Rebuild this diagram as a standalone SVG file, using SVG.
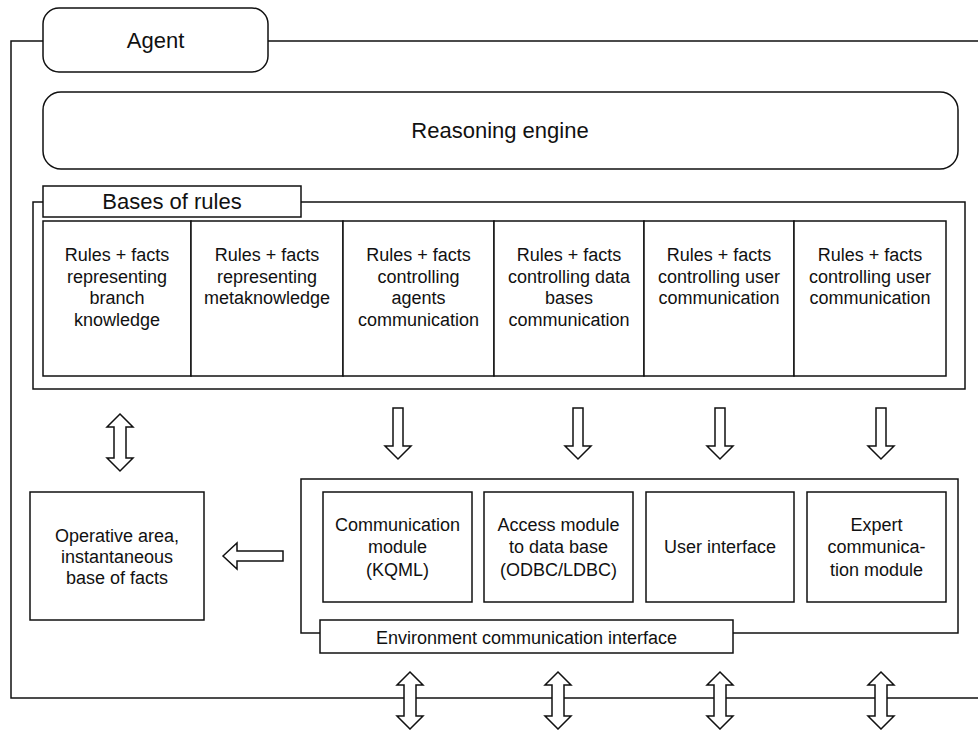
<svg xmlns="http://www.w3.org/2000/svg" width="978" height="730" viewBox="0 0 978 730">
<style>
.b{fill:#fff;stroke:#111;stroke-width:1.5}
.f{fill:none;stroke:#111;stroke-width:1.5}
text{font-family:"Liberation Sans",Arial,sans-serif;fill:#111;text-anchor:middle}
.t22{font-size:22px}
.t18{font-size:18px}
</style>
<defs>
<path id="down" d="M-5,0 H5 V38 H13 L0,51 L-13,38 H-5 Z"/>
<path id="dbl" d="M0,0 L13,13 H6 V44 H13 L0,57 L-13,44 H-6 V13 H-13 Z"/>
</defs>
<rect width="978" height="730" fill="#fff"/>

<g id="agent">
<rect class="f" x="11" y="41" width="1000" height="657"/>
<rect class="b" x="43" y="8" width="225" height="64" rx="16"/>
<text class="t22" x="155.5" y="48">Agent</text>
</g>

<g id="reasoning-engine">
<rect class="b" x="43" y="92" width="915" height="77" rx="18"/>
<text class="t22" x="500" y="138">Reasoning engine</text>
</g>

<g id="bases-of-rules">
<rect class="f" x="33" y="202" width="932" height="187"/>
<rect class="b" x="43" y="186" width="258" height="31"/>
<text class="t22" x="172" y="209">Bases of rules</text>
</g>

<g id="cell1">
<rect class="b" x="43" y="221" width="148" height="155"/>
<text class="t18" x="117" y="261">Rules + facts</text>
<text class="t18" x="117" y="282.7">representing</text>
<text class="t18" x="117" y="304.3">branch</text>
<text class="t18" x="117" y="326">knowledge</text>
</g>
<g id="cell2">
<rect class="b" x="191" y="221" width="152" height="155"/>
<text class="t18" x="267" y="261">Rules + facts</text>
<text class="t18" x="267" y="282.7">representing</text>
<text class="t18" x="267" y="304.3">metaknowledge</text>
</g>
<g id="cell3">
<rect class="b" x="343" y="221" width="151" height="155"/>
<text class="t18" x="418.5" y="261">Rules + facts</text>
<text class="t18" x="418.5" y="282.7">controlling</text>
<text class="t18" x="418.5" y="304.3">agents</text>
<text class="t18" x="418.5" y="326">communication</text>
</g>
<g id="cell4">
<rect class="b" x="494" y="221" width="150" height="155"/>
<text class="t18" x="569" y="261">Rules + facts</text>
<text class="t18" x="569" y="282.7">controlling data</text>
<text class="t18" x="569" y="304.3">bases</text>
<text class="t18" x="569" y="326">communication</text>
</g>
<g id="cell5">
<rect class="b" x="644" y="221" width="150" height="155"/>
<text class="t18" x="719" y="261">Rules + facts</text>
<text class="t18" x="719" y="282.7">controlling user</text>
<text class="t18" x="719" y="304.3">communication</text>
</g>
<g id="cell6">
<rect class="b" x="794" y="221" width="152" height="155"/>
<text class="t18" x="870" y="261">Rules + facts</text>
<text class="t18" x="870" y="282.7">controlling user</text>
<text class="t18" x="870" y="304.3">communication</text>
</g>

<g id="operative-area">
<rect class="b" x="30" y="492" width="174" height="128"/>
<text class="t18" x="117" y="541.5">Operative area,</text>
<text class="t18" x="117" y="562.5">instantaneous</text>
<text class="t18" x="117" y="583.5">base of facts</text>
</g>

<g id="environment-interface">
<rect class="f" x="301" y="479" width="657" height="154"/>
<rect class="b" x="320" y="620" width="413" height="33"/>
<text class="t18" x="526.5" y="643.5">Environment communication interface</text>
</g>

<g id="comm-module">
<rect class="b" x="323" y="492" width="149" height="110"/>
<text class="t18" x="397.5" y="530.5">Communication</text>
<text class="t18" x="397.5" y="553">module</text>
<text class="t18" x="397.5" y="575.5">(KQML)</text>
</g>
<g id="access-module">
<rect class="b" x="484" y="492" width="149" height="110"/>
<text class="t18" x="558.5" y="530.5">Access module</text>
<text class="t18" x="558.5" y="553">to data base</text>
<text class="t18" x="558.5" y="575.5">(ODBC/LDBC)</text>
</g>
<g id="user-interface">
<rect class="b" x="646" y="492" width="148" height="110"/>
<text class="t18" x="720" y="553">User interface</text>
</g>
<g id="expert-module">
<rect class="b" x="807" y="492" width="139" height="110"/>
<text class="t18" x="876.5" y="530.5">Expert</text>
<text class="t18" x="876.5" y="553">communica-</text>
<text class="t18" x="876.5" y="575.5">tion module</text>
</g>

<g id="connectors">
<use href="#dbl" class="b" transform="translate(120,414)"/>
<use href="#down" class="b" transform="translate(398,408)"/>
<use href="#down" class="b" transform="translate(578,408)"/>
<use href="#down" class="b" transform="translate(720,408)"/>
<use href="#down" class="b" transform="translate(881,408)"/>
<path class="b" d="M223,556 L237,543 V551 H283 V561 H237 V569 Z"/>
<use href="#dbl" class="b" transform="translate(410,672)"/>
<use href="#dbl" class="b" transform="translate(558,672)"/>
<use href="#dbl" class="b" transform="translate(720,672)"/>
<use href="#dbl" class="b" transform="translate(881,672)"/>
</g>
</svg>
